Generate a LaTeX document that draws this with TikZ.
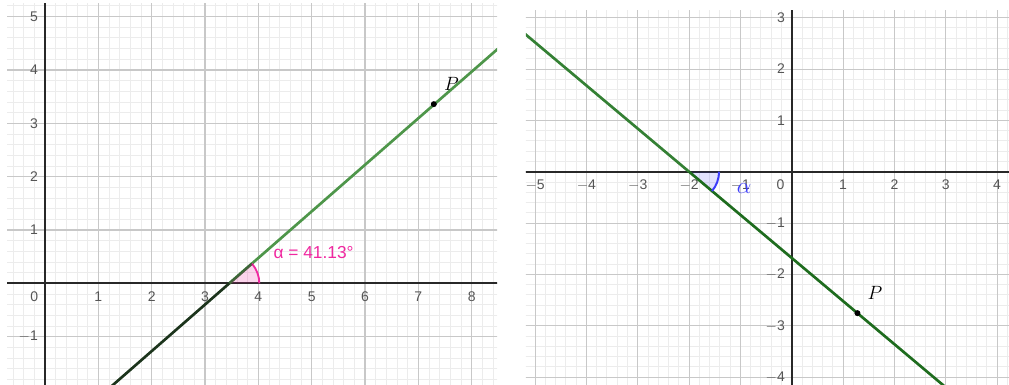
\documentclass[tikz,border=0pt]{standalone}
\usepackage{fontspec}
\setsansfont{Liberation Sans}
\definecolor{minorc}{RGB}{236,236,236}
\definecolor{majorc}{RGB}{200,200,200}
\definecolor{axisc}{RGB}{40,40,40}
\definecolor{labc}{RGB}{85,85,85}
\definecolor{greenA}{RGB}{78,150,74}
\definecolor{greenDark}{RGB}{28,52,28}
\definecolor{greenB}{RGB}{52,128,52}
\definecolor{greenBdark}{RGB}{30,108,30}
\definecolor{pinkc}{RGB}{240,40,160}
\definecolor{bluec}{RGB}{60,60,250}
\tikzset{
  minorgrid/.style={draw=minorc, line width=0.75pt},
  majorgrid/.style={draw=majorc, line width=0.8pt},
  axisline/.style={draw=axisc, line width=1.3pt},
  numlab/.style={text=labc, font=\sffamily\fontsize{10.5}{12}\selectfont, inner sep=0pt},
  graphline/.style={line width=2pt},
  ptdot/.style={circle, fill=black, inner sep=0pt, minimum size=4.5pt},
  ptlab/.style={font=\fontsize{15}{17}\selectfont, inner sep=0pt},
}
\begin{document}
\begin{tikzpicture}[x=0.75pt,y=-0.75pt]
\useasboundingbox (0,0) rectangle (1009,385);

% ---------------- left panel ----------------
\begin{scope}[shift={(33.75pt,-212.5pt)}, x=40pt, y=40pt]
  \clip (-0.71,-1.91) rectangle (8.475,5.24);
  \foreach \i in {-5,...,44} {\pgfmathtruncatemacro\r{mod(\i+100,5)}
    \ifnum\r=0 \else \draw[minorgrid] (\i/5,-2.2) -- (\i/5,5.6); \fi}
  \foreach \i in {-11,...,28} {\pgfmathtruncatemacro\r{mod(\i+100,5)}
    \ifnum\r=0 \else \draw[minorgrid] (-1,\i/5) -- (8.8,\i/5); \fi}
  \foreach \i in {-1,...,8} {\draw[majorgrid] (\i,-2.2) -- (\i,5.6);}
  \foreach \i in {-2,...,5} {\draw[majorgrid] (-1,\i) -- (8.8,\i);}
  \draw[axisline] (-1,0) -- (8.8,0);
  \draw[axisline] (0,-2.2) -- (0,5.6);
  % labels
  \node[numlab] (l0) at (-0.2,-0.25) {0};
  \foreach \k in {1,...,8} {\node[numlab] (lx\k) at (\k,-0.25) {\k};}
  \foreach \k in {1,...,5} {\node[numlab, anchor=east] (ly\k) at (-0.13,\k) {\k};}
  \node[numlab, anchor=east] (lym1) at (-0.13,-1) {$-$1};
  % line
  \coordinate (LA) at (3.456,0);
  \coordinate (LB) at (0.937,-2.2);
  \coordinate (LC) at (8.8,4.667);
  \coordinate (LP) at (7.29,3.36);
  \draw[greenA, graphline] (LA) -- (LC);
  \draw[greenDark, graphline] (LB) -- (LA);
  % angle
  \fill[pinkc, opacity=0.2] (LA) -- ++(0.5625,0) arc[start angle=0, end angle=41.13, radius=0.5625] -- cycle;
  \draw[pinkc, line width=1.4pt] (LA) ++(0.5625,0) arc[start angle=0, end angle=41.13, radius=0.5625];
  \draw[greenDark, opacity=0.45, graphline] (LA) -- ++(41.13:0.5625);
  \node[text=pinkc, font=\sffamily\fontsize{13}{15}\selectfont, anchor=west, inner sep=0pt] (alphaL) at (4.28,0.58) {α = 41.13°};
  \node[ptdot] (PL) at (LP) {};
  \node[ptlab, anchor=base] (PLlab) at (7.62,3.62) {$P$};
\end{scope}

% ---------------- right panel ----------------
\begin{scope}[shift={(593.8pt,-128.8pt)}, x=38.5pt, y=38.5pt]
  \clip (-5.18,-4.16) rectangle (4.24,3.15);
  \foreach \i in {-27,...,22} {\pgfmathtruncatemacro\r{mod(\i+100,5)}
    \ifnum\r=0 \else \draw[minorgrid] (\i/5,-4.4) -- (\i/5,3.4); \fi}
  \foreach \i in {-22,...,17} {\pgfmathtruncatemacro\r{mod(\i+100,5)}
    \ifnum\r=0 \else \draw[minorgrid] (-5.4,\i/5) -- (4.4,\i/5); \fi}
  \foreach \i in {-5,...,4} {\draw[majorgrid] (\i,-4.4) -- (\i,3.4);}
  \foreach \i in {-4,...,3} {\draw[majorgrid] (-5.4,\i) -- (4.4,\i);}
  \draw[axisline] (-5.4,0) -- (4.4,0);
  \draw[axisline] (0,-4.4) -- (0,3.4);
  \node[numlab] (r0) at (-0.22,-0.26) {0};
  \foreach \k in {1,...,4} {\node[numlab] (rx\k) at (\k,-0.26) {\k};}
  \foreach \k in {1,...,5} {\node[numlab] (rxm\k) at (-\k,-0.26) {$-$\k};}
  \foreach \k in {1,...,3} {\node[numlab, anchor=east] (ry\k) at (-0.13,\k) {\k};}
  \foreach \k in {1,...,4} {\node[numlab, anchor=east] (rym\k) at (-0.13,-\k) {$-$\k};}
  % angle fill
  \coordinate (RA) at (-2,0);
  \fill[bluec, opacity=0.15] (RA) -- ++(0.584,0) arc[start angle=0, end angle=-40.03, radius=0.584] -- cycle;
  % line
  \coordinate (RB) at (-5.4,2.856);
  \coordinate (RC) at (3.2,-4.368);
  \coordinate (RP) at (1.28,-2.755);
  \draw[greenB, graphline] (RB) -- (RA);
  \draw[greenBdark, graphline] (RA) -- (RC);
  \draw[bluec, line width=1.5pt] (RA) ++(0.584,0) arc[start angle=0, end angle=-40.03, radius=0.584];
  \node[text=bluec, font=\fontsize{17}{18}\selectfont, inner sep=0pt] (alphaR) at (-0.93,-0.33) {$\alpha$};
  \node[ptdot] (PR) at (RP) {};
  \node[ptlab, anchor=base] (PRlab) at (1.62,-2.48) {$P$};
\end{scope}
\end{tikzpicture}
\end{document}
